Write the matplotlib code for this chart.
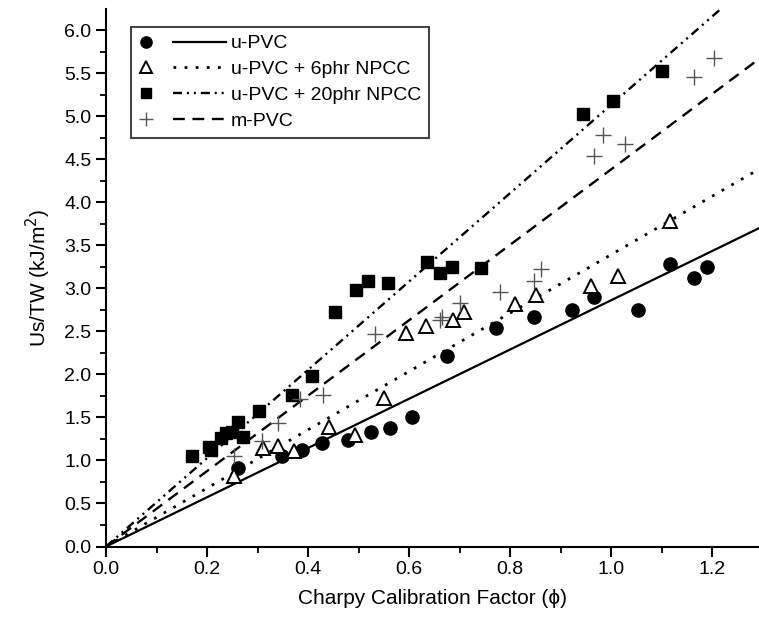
import numpy as np
import matplotlib
matplotlib.use("Agg")
import matplotlib.pyplot as plt
from matplotlib.lines import Line2D
from matplotlib.legend_handler import HandlerBase

plt.rcParams['font.family'] = ['Liberation Sans', 'DejaVu Sans']
plt.rcParams['lines.scale_dashes'] = False

# data
upvc_x = [0.262, 0.348, 0.389, 0.427, 0.48, 0.525, 0.563, 0.606, 0.675, 0.772,
          0.847, 0.922, 0.966, 1.054, 1.116, 1.165, 1.191]
upvc_y = [0.91, 1.05, 1.12, 1.20, 1.235, 1.335, 1.38, 1.505, 2.21, 2.54,
          2.67, 2.75, 2.90, 2.75, 3.28, 3.12, 3.25]

p6_x = [0.254, 0.311, 0.341, 0.373, 0.441, 0.493, 0.551, 0.594, 0.634, 0.688,
        0.709, 0.81, 0.851, 0.96, 1.014, 1.116]
p6_y = [0.82, 1.14, 1.17, 1.11, 1.39, 1.30, 1.73, 2.48, 2.56, 2.63,
        2.73, 2.82, 2.92, 3.03, 3.14, 3.78]

p20_x = [0.17, 0.203, 0.208, 0.228, 0.238, 0.249, 0.261, 0.271, 0.302, 0.368,
         0.407, 0.453, 0.496, 0.518, 0.559, 0.636, 0.662, 0.686, 0.743, 0.944,
         1.003, 1.10]
p20_y = [1.05, 1.16, 1.12, 1.265, 1.32, 1.335, 1.445, 1.277, 1.57, 1.76,
         1.975, 2.72, 2.98, 3.09, 3.06, 3.30, 3.18, 3.25, 3.235, 5.03,
         5.18, 5.52]

mpvc_x = [0.254, 0.308, 0.34, 0.385, 0.43, 0.533, 0.661, 0.665, 0.70, 0.78,
          0.847, 0.861, 0.966, 0.985, 1.028, 1.165, 1.203]
mpvc_y = [1.05, 1.22, 1.43, 1.715, 1.765, 2.47, 2.63, 2.665, 2.83, 2.96,
          3.085, 3.22, 4.54, 4.78, 4.68, 5.455, 5.67]

labels = ['u-PVC', 'u-PVC + 6phr NPCC', 'u-PVC + 20phr NPCC', 'm-PVC']
slopes = [2.86, 3.39, 5.13, 4.38]   # fitted lines through origin

xmax = 1.293
ymax = 6.25

fig = plt.figure(figsize=(7.59, 6.28), dpi=100)
ax = fig.add_axes([106 / 759, 81.5 / 628, 653 / 759, 538 / 628])

line_styles = ['-', (0, (2, 6)), (0, (6.5, 3.5, 1.5, 3.5, 1.5, 3.5)), (0, (8.5, 5.5))]
line_widths = [1.6, 2.0, 1.7, 1.7]
xs = np.array([0, xmax])
fit_lines = []
for s, ls, lw in zip(slopes, line_styles, line_widths):
    l, = ax.plot(xs, s * xs, color='black', lw=lw, linestyle=ls)
    fit_lines.append(l)

m1, = ax.plot(upvc_x, upvc_y, 'o', color='black', ms=9.5, ls='none')
m2, = ax.plot(p6_x, p6_y, '^', mfc='white', mec='black', mew=1.4, ms=10, ls='none')
m3, = ax.plot(p20_x, p20_y, 's', color='black', ms=8.5, ls='none')
m4, = ax.plot(mpvc_x, mpvc_y, '+', color='#555555', mew=1.0, ms=12, ls='none')


class MarkerThenLine(HandlerBase):
    # marker on the left, then the fit line, as in the original legend
    def create_artists(self, legend, orig_handle, xdescent, ydescent,
                       width, height, fontsize, trans):
        mk, ln = orig_handle
        y = height / 2 - ydescent
        a = Line2D([0], [0])
        a.update_from(mk)
        a.set_data([-xdescent + 0.09 * width], [y])
        a.set_markersize(mk.get_markersize() * 0.85)
        a.set_transform(trans)
        b = Line2D([0, 1], [0, 0])
        b.update_from(ln)
        b.set_data([-xdescent + 0.39 * width, -xdescent + width], [y, y])
        b.set_transform(trans)
        return [a, b]


handles = [(m, l) for m, l in zip([m1, m2, m3, m4], fit_lines)]
leg = ax.legend(handles, labels, handler_map={tuple: MarkerThenLine()},
                loc='upper left', bbox_to_anchor=(0.038, 0.9656), fontsize=14,
                handlelength=4.5, handletextpad=0.26, labelspacing=0.42,
                borderpad=0.4, borderaxespad=0, frameon=True, fancybox=False,
                framealpha=1)
leg.get_frame().set_edgecolor('#444444')
leg.get_frame().set_linewidth(1.5)

ax.set_xlim(0, xmax)
ax.set_ylim(0, ymax)
ax.set_xticks(np.arange(0, 1.21, 0.2))
ax.set_xticks(np.arange(0.1, 1.3, 0.2), minor=True)
ax.set_yticks(np.arange(0, 6.01, 0.5))
ax.set_yticks(np.arange(0.25, 6.25, 0.5), minor=True)
ax.xaxis.set_major_formatter(matplotlib.ticker.FormatStrFormatter('%.1f'))
ax.yaxis.set_major_formatter(matplotlib.ticker.FormatStrFormatter('%.1f'))

for side in ['top', 'right']:
    ax.spines[side].set_visible(False)
for side in ['left', 'bottom']:
    ax.spines[side].set_linewidth(1.5)
ax.tick_params(which='major', direction='out', length=7, width=1.5, labelsize=14)
ax.tick_params(which='minor', direction='out', length=4.5, width=1.3)

ax.set_xlabel('Charpy Calibration Factor (ϕ)', fontsize=15, labelpad=8)
ax.set_ylabel('Us/TW (kJ/m$^2$)', fontsize=15, labelpad=8)

fig.savefig('out.png', dpi=100)
